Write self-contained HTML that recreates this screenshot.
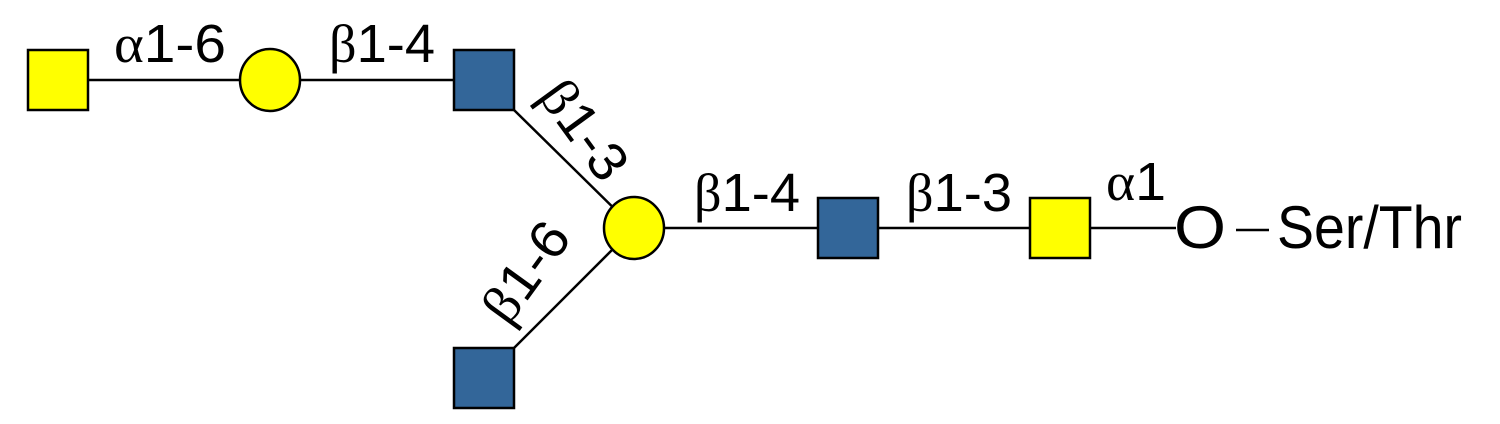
<!DOCTYPE html>
<html><head><meta charset="utf-8"><style>
html,body{margin:0;padding:0;background:#fff;}
svg{display:block;}
text{font-family:"Liberation Sans",Arial,sans-serif;font-size:54px;fill:#000;}
.g{font-family:"Liberation Serif",serif;font-size:54px;}
</style></head><body>
<svg width="1500" height="424" viewBox="0 0 1500 424" xmlns="http://www.w3.org/2000/svg">
<g stroke="#000" stroke-width="2.5">
<line x1="88" y1="80" x2="454" y2="80"/>
<line x1="514" y1="110" x2="634" y2="228"/>
<line x1="514" y1="348" x2="634" y2="228"/>
<line x1="634" y1="228" x2="1176" y2="228"/>
<line x1="1236" y1="230" x2="1269" y2="230"/>
</g>
<g stroke="#000" stroke-width="2.5">
<rect x="28" y="50" width="60" height="60" fill="#ffff00"/>
<ellipse cx="270" cy="80" rx="30" ry="31" fill="#ffff00"/>
<rect x="454" y="50" width="60" height="60" fill="#336699"/>
<ellipse cx="634" cy="228" rx="30" ry="31" fill="#ffff00"/>
<rect x="818" y="198" width="60" height="60" fill="#336699"/>
<rect x="1030" y="198" width="60" height="60" fill="#ffff00"/>
<rect x="454" y="348" width="60" height="60" fill="#336699"/>
</g>
<text x="114" y="62" textLength="112" lengthAdjust="spacingAndGlyphs"><tspan class="g">α</tspan>1-6</text>
<text x="329" y="62" textLength="106" lengthAdjust="spacingAndGlyphs"><tspan class="g">β</tspan>1-4</text>
<text x="694" y="211" textLength="106" lengthAdjust="spacingAndGlyphs"><tspan class="g">β</tspan>1-4</text>
<text x="906" y="211" textLength="106" lengthAdjust="spacingAndGlyphs"><tspan class="g">β</tspan>1-3</text>
<text x="1106" y="200" textLength="60" lengthAdjust="spacingAndGlyphs"><tspan class="g">α</tspan>1</text>
<text transform="translate(584,130) rotate(54)" text-anchor="middle" y="18" textLength="110" lengthAdjust="spacingAndGlyphs"><tspan class="g">β</tspan>1-3</text>
<text transform="translate(526,272) rotate(-54)" text-anchor="middle" y="18" textLength="110" lengthAdjust="spacingAndGlyphs"><tspan class="g">β</tspan>1-6</text>
<text x="1174" y="248" style="font-size:60px" textLength="52" lengthAdjust="spacingAndGlyphs">O</text>
<text x="1277" y="248" style="font-size:60px" textLength="185" lengthAdjust="spacingAndGlyphs">Ser/Thr</text>
</svg>
</body></html>
